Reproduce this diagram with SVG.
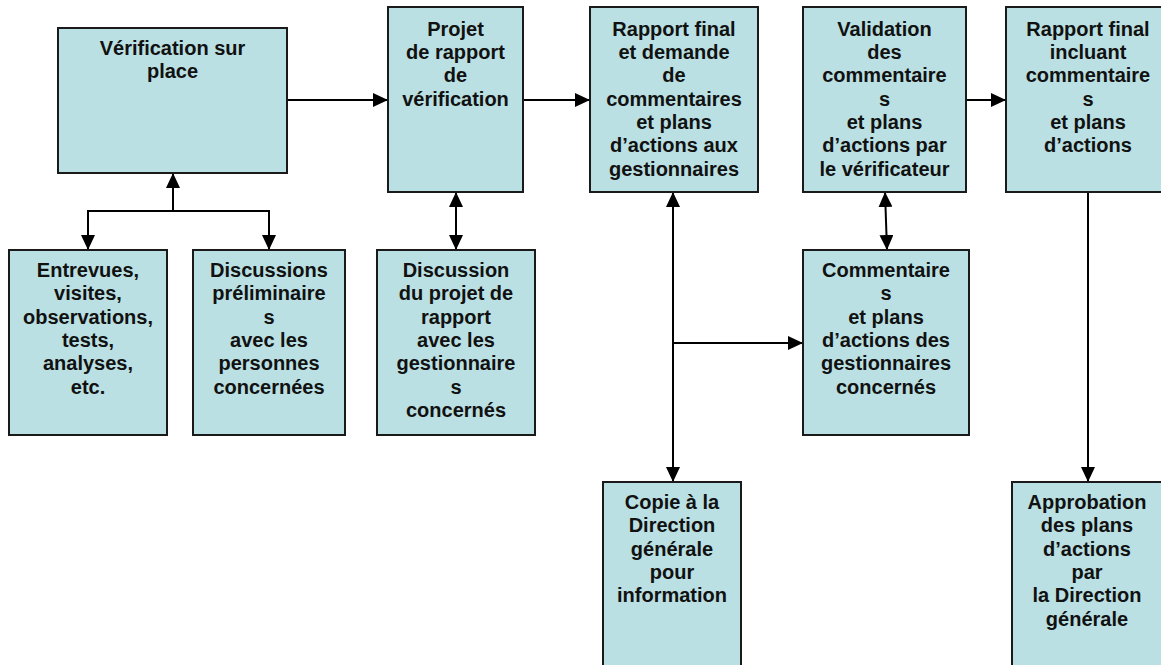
<svg xmlns="http://www.w3.org/2000/svg" width="1161" height="665" viewBox="0 0 1161 665">
<style>
.box{fill:#BAE0E3;stroke:#1a1a1a;stroke-width:2}
.lbl{font-family:"Liberation Sans",Arial,sans-serif;font-weight:bold;font-size:20px;fill:#111;text-anchor:middle}
.con{fill:none;stroke:#000;stroke-width:2}
</style>
<defs>
<marker id="ah" viewBox="0 0 15 14" refX="15" refY="7" markerWidth="15" markerHeight="14" markerUnits="userSpaceOnUse" orient="auto-start-reverse">
<path d="M0,0 L15,7 L0,14 z" fill="#000"/>
</marker>
</defs>
<rect width="1161" height="665" fill="#fff"/>
<g id="connectors">
<line class="con" x1="287" y1="100" x2="388" y2="100" marker-end="url(#ah)"/>
<line class="con" x1="523" y1="100" x2="590" y2="100" marker-end="url(#ah)"/>
<line class="con" x1="966" y1="100" x2="1006" y2="100" marker-end="url(#ah)"/>
<line class="con" x1="173" y1="211" x2="173" y2="173" marker-end="url(#ah)"/>
<polyline class="con" points="88,250 88,211 269,211 269,250"/>
<line class="con" x1="88" y1="211" x2="88" y2="250" marker-end="url(#ah)"/>
<line class="con" x1="269" y1="211" x2="269" y2="250" marker-end="url(#ah)"/>
<line class="con" x1="456" y1="192" x2="456" y2="250" marker-start="url(#ah)" marker-end="url(#ah)"/>
<line class="con" x1="673" y1="192" x2="673" y2="482" marker-start="url(#ah)" marker-end="url(#ah)"/>
<line class="con" x1="673" y1="343" x2="803" y2="343" marker-end="url(#ah)"/>
<line class="con" x1="885" y1="192" x2="887" y2="250" marker-start="url(#ah)" marker-end="url(#ah)"/>
<line class="con" x1="1088" y1="192" x2="1088" y2="482" marker-end="url(#ah)"/>
</g>
<g id="n-verification">
<rect class="box" x="58" y="28" width="229" height="145"/>
<text class="lbl" x="172.5" y="54.5">Vérification sur</text>
<text class="lbl" x="172.5" y="77.8">place</text>
</g>
<g id="n-projet">
<rect class="box" x="388" y="7" width="135" height="185"/>
<text class="lbl" x="455.5" y="35.7">Projet<tspan x="455.5" dy="23.3">de rapport</tspan><tspan x="455.5" dy="23.3">de</tspan><tspan x="455.5" dy="23.3">vérification</tspan></text>
</g>
<g id="n-rapport-final">
<rect class="box" x="590" y="7" width="168" height="185"/>
<text class="lbl" x="674" y="35.7">Rapport final<tspan x="674" dy="23.3">et demande</tspan><tspan x="674" dy="23.3">de</tspan><tspan x="674" dy="23.3">commentaires</tspan><tspan x="674" dy="23.3">et plans</tspan><tspan x="674" dy="23.3">d’actions aux</tspan><tspan x="674" dy="23.3">gestionnaires</tspan></text>
</g>
<g id="n-validation">
<rect class="box" x="803" y="7" width="163" height="185"/>
<text class="lbl" x="884.5" y="35.7">Validation<tspan x="884.5" dy="23.3">des</tspan><tspan x="884.5" dy="23.3">commentaire</tspan><tspan x="884.5" dy="23.3">s</tspan><tspan x="884.5" dy="23.3">et plans</tspan><tspan x="884.5" dy="23.3">d’actions par</tspan><tspan x="884.5" dy="23.3">le vérificateur</tspan></text>
</g>
<g id="n-rapport-incluant">
<rect class="box" x="1006" y="7" width="170" height="185"/>
<text class="lbl" x="1088" y="35.7">Rapport final<tspan x="1088" dy="23.3">incluant</tspan><tspan x="1088" dy="23.3">commentaire</tspan><tspan x="1088" dy="23.3">s</tspan><tspan x="1088" dy="23.3">et plans</tspan><tspan x="1088" dy="23.3">d’actions</tspan></text>
</g>
<g id="n-entrevues">
<rect class="box" x="9" y="250" width="158" height="185"/>
<text class="lbl" x="88" y="277">Entrevues,<tspan x="88" dy="23.3">visites,</tspan><tspan x="88" dy="23.3">observations,</tspan><tspan x="88" dy="23.3">tests,</tspan><tspan x="88" dy="23.3">analyses,</tspan><tspan x="88" dy="23.3">etc.</tspan></text>
</g>
<g id="n-discussions">
<rect class="box" x="193" y="250" width="152" height="185"/>
<text class="lbl" x="269" y="277">Discussions<tspan x="269" dy="23.3">préliminaire</tspan><tspan x="269" dy="23.3">s</tspan><tspan x="269" dy="23.3">avec les</tspan><tspan x="269" dy="23.3">personnes</tspan><tspan x="269" dy="23.3">concernées</tspan></text>
</g>
<g id="n-discussion-projet">
<rect class="box" x="377" y="250" width="158" height="185"/>
<text class="lbl" x="456" y="277">Discussion<tspan x="456" dy="23.3">du projet de</tspan><tspan x="456" dy="23.3">rapport</tspan><tspan x="456" dy="23.3">avec les</tspan><tspan x="456" dy="23.3">gestionnaire</tspan><tspan x="456" dy="23.3">s</tspan><tspan x="456" dy="23.3">concernés</tspan></text>
</g>
<g id="n-commentaires">
<rect class="box" x="803" y="250" width="166" height="185"/>
<text class="lbl" x="886" y="277">Commentaire<tspan x="886" dy="23.3">s</tspan><tspan x="886" dy="23.3">et plans</tspan><tspan x="886" dy="23.3">d’actions des</tspan><tspan x="886" dy="23.3">gestionnaires</tspan><tspan x="886" dy="23.3">concernés</tspan></text>
</g>
<g id="n-copie">
<rect class="box" x="603" y="482" width="138" height="200"/>
<text class="lbl" x="672" y="509">Copie à la<tspan x="672" dy="23.3">Direction</tspan><tspan x="672" dy="23.3">générale</tspan><tspan x="672" dy="23.3">pour</tspan><tspan x="672" dy="23.3">information</tspan></text>
</g>
<g id="n-approbation">
<rect class="box" x="1012" y="482" width="160" height="200"/>
<text class="lbl" x="1087" y="509">Approbation<tspan x="1087" dy="23.3">des plans</tspan><tspan x="1087" dy="23.3">d’actions</tspan><tspan x="1087" dy="23.3">par</tspan><tspan x="1087" dy="23.3">la Direction</tspan><tspan x="1087" dy="23.3">générale</tspan></text>
</g>
</svg>
